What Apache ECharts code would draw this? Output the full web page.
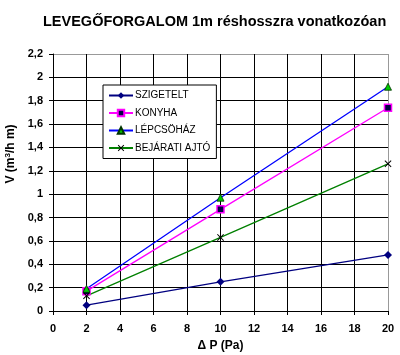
<!DOCTYPE html>
<html><head><meta charset="utf-8">
<script src="https://cdn.jsdelivr.net/npm/echarts@6/dist/echarts.min.js"></script>
<style>html,body{margin:0;padding:0;background:#fff}#c{width:400px;height:355px}</style>
</head><body><div id="c"></div>
<script>
const titleText = 'LEVEGŐFORGALOM 1m réshosszra vonatkozóan';
const xTicks = [0,2,4,6,8,10,12,14,16,18,20];
const pressure = [2, 10, 20];
const seriesNames = ['SZIGETELT', 'KONYHA', 'LÉPCSÖHÁZ', 'BEJÁRATI AJTÓ'];
const szigetelt = [0.05, 0.25, 0.48];
const konyha = [0.17, 0.87, 1.74];
const lepcsohaz = [0.19, 0.97, 1.92];
const bejarati = [0.13, 0.63, 1.26];

const pair = arr => pressure.map((p, i) => [p, arr[i]]);
const F = 'Liberation Sans, Arial, sans-serif';
const xPath = 'path://M0,1L1,0L5,4L9,0L10,1L6,5L10,9L9,10L5,6L1,10L0,9L4,5Z';

const chart = echarts.init(document.getElementById('c'), null, {renderer:'canvas'});
const ycolors = []; for (let i=0;i<11;i++) ycolors.push('#000'); ycolors.push('#999');
const xcolors = []; for (let i=0;i<10;i++) xcolors.push('#000'); xcolors.push('#999');
chart.setOption({
  animation: false,
  backgroundColor: '#fff',
  title: {
    text: titleText, left: 43, top: 14,
    textStyle: {fontFamily: F, fontSize: 14.5, fontWeight: 'bold', color: '#000'},
    padding: 0, itemGap: 0
  },
  grid: {left: 53, right: 12, top: 54, bottom: 44, containLabel: false, outerBoundsMode: 'none'},
  legend: {
    orient: 'vertical', left: 103, top: 85,
    backgroundColor: '#fff', borderColor: '#000', borderWidth: 1,
    padding: [5, 6, 5, 5], itemWidth: 24, itemHeight: 8, itemGap: 6.5,
    textStyle: {fontFamily: F, fontSize: 10, color: '#000', lineHeight: 11, padding:[0,0,0,-3]},
    data: seriesNames
  },
  xAxis: {
    type: 'value', min: 0, max: 20, interval: 2,
    name: 'Δ P (Pa)', nameLocation: 'middle', nameGap: 29,
    nameTextStyle: {fontFamily: F, fontSize: 12, fontWeight: 'bold', color: '#000'},
    axisLine: {lineStyle: {color: '#000', width: 1}},
    axisTick: {show: true, length: 4, lineStyle: {color: '#000'}},
    axisLabel: {fontFamily: F, fontSize: 11, fontWeight: 'bold', color: '#000', margin: 12,
      formatter: v => String(v)},
    splitLine: {show: true, lineStyle: {color: xcolors, width: 1}}
  },
  yAxis: {
    type: 'value', min: 0, max: 2.2, interval: 0.2,
    name: 'V (m{sup|3}/h m)', nameLocation: 'middle', nameGap: 30, nameRotate: 90,
    nameTextStyle: {fontFamily: F, fontSize: 12, fontWeight: 'bold', color: '#000', padding: [0,0,0,57],
      rich: {sup: {fontFamily: F, fontSize: 8, fontWeight: 'bold', color: '#000', verticalAlign: 'top', padding:[0,0,6,0]}}},
    axisLine: {show: true, lineStyle: {color: '#000', width: 1}},
    axisTick: {show: true, length: 4, lineStyle: {color: '#000'}},
    axisLabel: {fontFamily: F, fontSize: 11, fontWeight: 'bold', color: '#000', margin: 10,
      formatter: v => String(+v.toFixed(1)).replace('.', ',')},
    splitLine: {show: true, lineStyle: {color: ycolors, width: 1}}
  },
  series: [
    {name: seriesNames[0], type: 'line', data: pair(szigetelt), symbol: 'diamond', symbolSize: 8,
     lineStyle: {color: '#000080', width: 1.3}, itemStyle: {color: '#000080'}},
    {name: seriesNames[1], type: 'line', data: pair(konyha), symbol: 'rect', symbolSize: 7,
     lineStyle: {color: '#ff00ff', width: 1.3}, itemStyle: {color: '#000040', borderColor: '#ff00ff', borderWidth: 1.5}},
    {name: seriesNames[2], type: 'line', data: pair(lepcsohaz), symbol: 'triangle', symbolSize: 7,
     lineStyle: {color: '#0000ff', width: 1.3}, itemStyle: {color: '#00cc00', borderColor: '#003300', borderWidth: 0.8}},
    {name: seriesNames[3], type: 'line', data: pair(bejarati), symbol: xPath, symbolSize: 7,
     lineStyle: {color: '#008000', width: 1.3}, itemStyle: {color: '#000'}}
  ]
});
</script></body></html>
